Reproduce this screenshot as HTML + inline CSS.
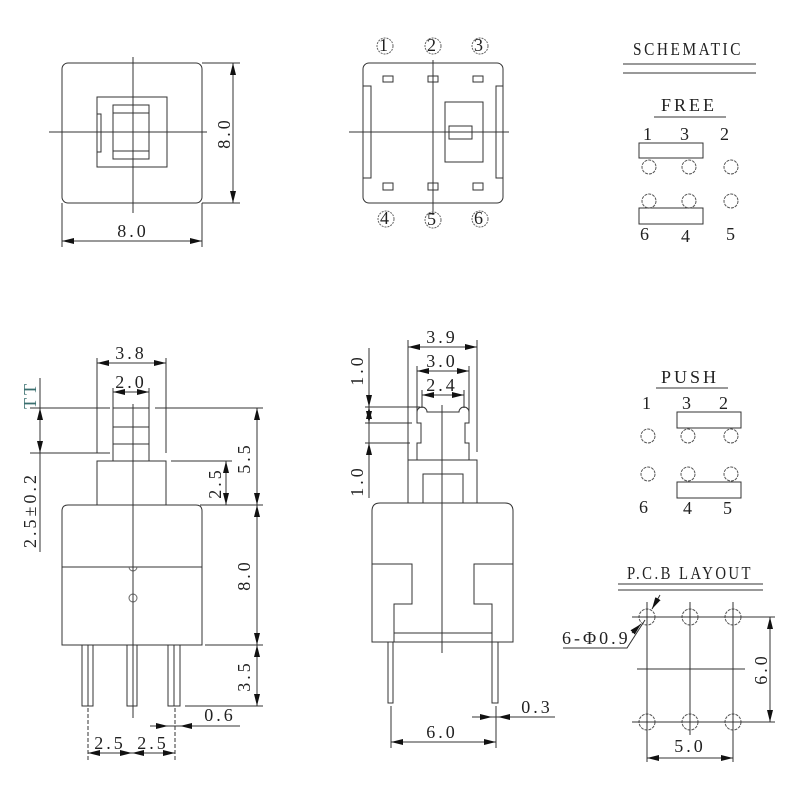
<!DOCTYPE html>
<html><head><meta charset="utf-8"><style>
html,body{margin:0;padding:0;background:#fff}
svg{display:block}
text{font-family:"Liberation Serif",serif;font-size:18px;fill:#222;letter-spacing:3px}
</style></head><body>
<svg width="800" height="800" viewBox="0 0 800 800" xmlns="http://www.w3.org/2000/svg">
<defs>
<marker id="a" viewBox="0 0 12 6" refX="12" refY="3" markerWidth="12" markerHeight="6" markerUnits="userSpaceOnUse" orient="auto-start-reverse"><path d="M0,0 L12,3 L0,6 z" fill="#111"/></marker>
</defs>
<g stroke="#333" stroke-width="1" fill="none">
<rect x="62" y="63" width="140" height="140" rx="6"/>
<line x1="133" y1="57" x2="133" y2="213"/>
<line x1="49" y1="132" x2="207" y2="132"/>
<rect x="97" y="97" width="70" height="70"/>
<rect x="113" y="105" width="36" height="54"/>
<line x1="113" y1="113" x2="149" y2="113"/>
<line x1="113" y1="151" x2="149" y2="151"/>
<rect x="97" y="114" width="4" height="38"/>
<line x1="202" y1="63" x2="240" y2="63"/>
<line x1="202" y1="203" x2="240" y2="203"/>
<line x1="233" y1="63" x2="233" y2="203" marker-start="url(#a)" marker-end="url(#a)"/>
<line x1="62" y1="203" x2="62" y2="247"/>
<line x1="202" y1="203" x2="202" y2="247"/>
<line x1="62" y1="241" x2="202" y2="241" marker-start="url(#a)" marker-end="url(#a)"/>

<rect x="363" y="63" width="140" height="140" rx="6"/>
<rect x="363" y="86" width="8" height="92"/>
<rect x="496" y="86" width="7" height="92"/>
<rect x="383" y="76" width="10" height="6"/>
<rect x="428" y="76" width="10" height="6"/>
<rect x="473" y="76" width="10" height="6"/>
<rect x="383" y="183" width="10" height="7"/>
<rect x="428" y="183" width="10" height="7"/>
<rect x="473" y="183" width="10" height="7"/>
<rect x="445" y="102" width="38" height="60"/>
<rect x="449" y="126" width="23" height="13"/>
<line x1="433" y1="60" x2="433" y2="215"/>
<line x1="349" y1="132" x2="509" y2="132"/>
<g stroke="#666" stroke-dasharray="2,1">
<circle cx="385" cy="46" r="8"/><circle cx="433" cy="46" r="8"/><circle cx="480" cy="46" r="8"/>
<circle cx="386" cy="219" r="8"/><circle cx="433" cy="220" r="8"/><circle cx="480" cy="219" r="8"/>
</g>

<line x1="623" y1="64" x2="756" y2="64"/>
<line x1="623" y1="73" x2="756" y2="73"/>
<line x1="654" y1="117" x2="726" y2="117"/>
<rect x="639" y="143" width="64" height="15"/>
<rect x="639" y="208" width="64" height="16"/>
<g stroke="#555" stroke-dasharray="3,1">
<circle cx="649" cy="167" r="7"/><circle cx="689" cy="167" r="7"/><circle cx="731" cy="167" r="7"/>
<circle cx="649" cy="201" r="7"/><circle cx="689" cy="201" r="7"/><circle cx="731" cy="201" r="7"/>
</g>
<line x1="656" y1="388" x2="728" y2="388"/>
<rect x="677" y="412" width="64" height="16"/>
<rect x="677" y="482" width="64" height="16"/>
<g stroke="#555" stroke-dasharray="3,1">
<circle cx="648" cy="436" r="7"/><circle cx="688" cy="436" r="7"/><circle cx="731" cy="436" r="7"/>
<circle cx="648" cy="474" r="7"/><circle cx="688" cy="474" r="7"/><circle cx="731" cy="474" r="7"/>
</g>

<line x1="618" y1="584" x2="763" y2="584"/>
<line x1="618" y1="590" x2="763" y2="590"/>
<g stroke="#555" stroke-dasharray="3,1">
<circle cx="647" cy="617" r="8"/><circle cx="690" cy="617" r="8"/><circle cx="733" cy="617" r="8"/>
<circle cx="647" cy="722" r="8"/><circle cx="690" cy="722" r="8"/><circle cx="733" cy="722" r="8"/>
</g>
<line x1="632" y1="617" x2="775" y2="617"/>
<line x1="632" y1="722" x2="775" y2="722"/>
<line x1="637" y1="669" x2="745" y2="669"/>
<line x1="647" y1="602" x2="647" y2="762"/>
<line x1="690" y1="602" x2="690" y2="735"/>
<line x1="733" y1="602" x2="733" y2="762"/>
<line x1="647" y1="758" x2="733" y2="758" marker-start="url(#a)" marker-end="url(#a)"/>
<line x1="770" y1="617" x2="770" y2="722" marker-start="url(#a)" marker-end="url(#a)"/>
<polyline points="563,648 627,648 645,620"/>
<line x1="660" y1="595" x2="652" y2="609" marker-end="url(#a)"/>
<line x1="632" y1="633" x2="641" y2="624" marker-end="url(#a)" />

<path d="M62,645 V511 Q62,505 68,505 H196 Q202,505 202,511 V645 Z"/>
<line x1="62" y1="567" x2="202" y2="567"/>
<path d="M129,567 A4,4 0 0 0 137,567" stroke="#666"/>
<circle cx="133" cy="598" r="4" stroke="#666"/>
<rect x="97" y="461" width="69" height="44"/>
<rect x="113" y="408" width="36" height="53"/>
<line x1="113" y1="427" x2="149" y2="427"/>
<line x1="113" y1="444" x2="149" y2="444"/>
<line x1="133" y1="404" x2="133" y2="718"/>
<rect x="82" y="645" width="11" height="61"/><line x1="88" y1="645" x2="88" y2="706"/>
<rect x="127" y="645" width="10" height="61"/>
<rect x="168" y="645" width="12" height="61"/><line x1="174" y1="645" x2="174" y2="706"/>
<line x1="97" y1="358" x2="97" y2="453"/>
<line x1="166" y1="358" x2="166" y2="453"/>
<line x1="97" y1="363" x2="166" y2="363" marker-start="url(#a)" marker-end="url(#a)"/>
<line x1="113" y1="388" x2="113" y2="408"/>
<line x1="149" y1="388" x2="149" y2="408"/>
<line x1="113" y1="392" x2="149" y2="392" marker-start="url(#a)" marker-end="url(#a)"/>
<line x1="30" y1="408" x2="110" y2="408"/>
<line x1="30" y1="453" x2="110" y2="453"/>
<line x1="40" y1="378" x2="40" y2="552"/>
<line x1="40" y1="430" x2="40" y2="408" marker-end="url(#a)"/>
<line x1="40" y1="430" x2="40" y2="453" marker-end="url(#a)"/>
<line x1="155" y1="408" x2="263" y2="408"/>
<line x1="200" y1="505" x2="263" y2="505"/>
<line x1="205" y1="645" x2="263" y2="645"/>
<line x1="185" y1="706" x2="263" y2="706"/>
<line x1="171" y1="461" x2="232" y2="461"/>
<line x1="226" y1="461" x2="226" y2="505" marker-start="url(#a)" marker-end="url(#a)"/>
<line x1="257" y1="408" x2="257" y2="505" marker-start="url(#a)" marker-end="url(#a)"/>
<line x1="257" y1="505" x2="257" y2="645" marker-start="url(#a)" marker-end="url(#a)"/>
<line x1="257" y1="645" x2="257" y2="706" marker-start="url(#a)" marker-end="url(#a)"/>
<line x1="150" y1="726" x2="240" y2="726"/>
<line x1="150" y1="726" x2="168" y2="726" marker-end="url(#a)"/>
<line x1="198" y1="726" x2="180" y2="726" marker-end="url(#a)"/>
<line x1="88" y1="708" x2="88" y2="760" stroke-dasharray="4,2"/>
<line x1="175" y1="708" x2="175" y2="760" stroke-dasharray="4,2"/>
<line x1="88" y1="753" x2="132" y2="753" marker-start="url(#a)" marker-end="url(#a)"/>
<line x1="132" y1="753" x2="175" y2="753" marker-start="url(#a)" marker-end="url(#a)"/>

<path d="M372,642 V511 Q372,503 380,503 H505 Q513,503 513,511 V642 Z"/>
<polyline points="372,564 412,564 412,604 394,604 394,642"/>
<polyline points="513,564 474,564 474,604 492,604 492,642"/>
<line x1="394" y1="633" x2="492" y2="633"/>
<rect x="408" y="460" width="69" height="43"/>
<polyline points="423,503 423,474 463,474 463,503"/>
<path d="M417,460 V443 H421 V423 H417 V412 A5,5 0 0 1 427,412 H459 A5,5 0 0 1 469,412 V423 H465 V443 H469 V460"/>
<line x1="442" y1="405" x2="442" y2="653"/>
<rect x="388" y="642" width="5" height="61"/>
<rect x="492" y="642" width="6" height="61"/>
<line x1="408" y1="340" x2="408" y2="460"/>
<line x1="477" y1="340" x2="477" y2="452"/>
<line x1="408" y1="347" x2="477" y2="347" marker-start="url(#a)" marker-end="url(#a)"/>
<line x1="417" y1="366" x2="417" y2="412"/>
<line x1="469" y1="366" x2="469" y2="412"/>
<line x1="417" y1="371" x2="469" y2="371" marker-start="url(#a)" marker-end="url(#a)"/>
<line x1="422" y1="390" x2="422" y2="408"/>
<line x1="464" y1="390" x2="464" y2="408"/>
<line x1="422" y1="395" x2="464" y2="395" marker-start="url(#a)" marker-end="url(#a)"/>
<line x1="369" y1="348" x2="369" y2="498"/>
<line x1="365" y1="407" x2="420" y2="407"/>
<line x1="365" y1="423" x2="412" y2="423"/>
<line x1="365" y1="443" x2="410" y2="443"/>
<line x1="369" y1="395" x2="369" y2="407" marker-end="url(#a)"/>
<line x1="369" y1="415" x2="369" y2="407" marker-end="url(#a)"/>
<line x1="369" y1="415" x2="369" y2="423" marker-end="url(#a)"/>
<line x1="369" y1="455" x2="369" y2="443" marker-end="url(#a)"/>
<line x1="472" y1="717" x2="555" y2="717"/>
<line x1="474" y1="717" x2="492" y2="717" marker-end="url(#a)"/>
<line x1="514" y1="717" x2="498" y2="717" marker-end="url(#a)"/>
<line x1="391" y1="706" x2="391" y2="748"/>
<line x1="496" y1="706" x2="496" y2="748"/>
<line x1="391" y1="742" x2="496" y2="742" marker-start="url(#a)" marker-end="url(#a)"/>
</g>

<g text-anchor="middle">
<text x="133" y="237">8.0</text>
<text transform="translate(230,133) rotate(-90)">8.0</text>
<g font-size="15" letter-spacing="0">
<text x="385" y="51">1</text><text x="433" y="51">2</text><text x="480" y="51">3</text>
<text x="386" y="224">4</text><text x="433" y="225">5</text><text x="480" y="224">6</text>
</g>
<text x="688" y="55" font-size="22" letter-spacing="0" textLength="110" lengthAdjust="spacingAndGlyphs">SCHEMATIC</text>
<text x="689" y="111" font-size="21" letter-spacing="0">FREE</text>
<g font-size="14" letter-spacing="0">
<text x="649" y="140">1</text><text x="686" y="140">3</text><text x="726" y="140">2</text>
<text x="646" y="240">6</text><text x="687" y="242">4</text><text x="732" y="240">5</text>
<text x="648" y="409">1</text><text x="688" y="409">3</text><text x="725" y="409">2</text>
<text x="645" y="513">6</text><text x="689" y="514">4</text><text x="729" y="514">5</text>
</g>
<text x="690" y="383" font-size="21" letter-spacing="0">PUSH</text>
<text x="690" y="579" font-size="19" letter-spacing="1" textLength="126" lengthAdjust="spacingAndGlyphs">P.C.B LAYOUT</text>
<text x="690" y="752">5.0</text>
<text transform="translate(767,669) rotate(-90)">6.0</text>
<text x="131" y="359">3.8</text>
<text x="131" y="388">2.0</text>
<text transform="translate(36,395) rotate(-90)" style="fill:#3a6f6f">TT</text>
<text transform="translate(36,510) rotate(-90)">2.5±0.2</text>
<text transform="translate(250,458) rotate(-90)">5.5</text>
<text transform="translate(221,483) rotate(-90)">2.5</text>
<text transform="translate(250,575) rotate(-90)">8.0</text>
<text transform="translate(250,676) rotate(-90)">3.5</text>
<text x="220" y="721">0.6</text>
<text x="110" y="749">2.5</text>
<text x="153" y="749">2.5</text>
<text x="442" y="343">3.9</text>
<text x="442" y="367">3.0</text>
<text x="442" y="391">2.4</text>
<text transform="translate(363,370) rotate(-90)">1.0</text>
<text transform="translate(363,481) rotate(-90)">1.0</text>
<text x="537" y="713">0.3</text>
<text x="442" y="738">6.0</text>
</g>
<text x="562" y="644" letter-spacing="1" font-size="17">6-Φ0.9</text>
</svg>
</body></html>
